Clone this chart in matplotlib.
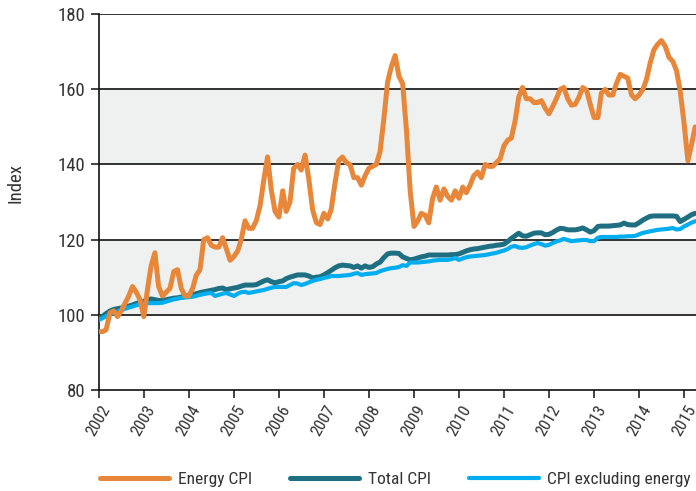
import matplotlib
matplotlib.use("Agg")
import matplotlib.pyplot as plt
import matplotlib.dates as mdates
import pandas as pd

# Monthly index levels, Jan 2002 - Apr 2015
start_month = "2002-01-01"

energy_cpi = [
    95.5, 95.5, 96.0, 100.5, 101.0, 99.5, 101.0, 103.0, 105.0, 107.5, 106.0, 104.0,
    99.5, 107.0, 113.0, 116.5, 107.5, 105.0, 106.0, 107.0, 111.5, 112.0, 107.0, 105.0,
    105.0, 107.0, 110.5, 112.0, 120.0, 120.5, 118.5, 118.0, 118.0, 120.5, 117.5, 114.5,
    115.5, 117.0, 120.0, 125.0, 123.0, 123.0, 125.0, 129.0, 136.0, 142.0, 133.0, 127.5,
    126.0, 133.0, 127.5, 130.0, 139.0, 140.0, 138.5, 142.5, 136.0, 128.0, 124.5, 124.0,
    127.0, 125.5, 128.0, 135.0, 141.0, 142.0, 140.5, 140.0, 136.5, 136.5, 134.5, 137.0,
    139.0, 139.5, 140.0, 143.5, 152.0, 162.0, 166.0, 169.0, 163.5, 161.5, 149.0, 133.0,
    123.5, 125.0, 127.0, 126.5, 124.5, 131.0, 134.0, 130.5, 133.5, 131.5, 130.5, 133.0,
    131.0, 134.0, 132.5, 134.5, 137.0, 138.0, 136.5, 140.0, 139.5, 139.5, 140.5, 141.5,
    145.0, 146.5, 147.0, 151.5, 158.0, 160.5, 157.5, 157.5, 156.5, 156.5, 157.0, 155.0,
    153.5, 155.5, 157.5, 160.0, 160.5, 157.5, 155.8, 156.0, 158.0, 160.5, 159.8, 156.0,
    152.5, 152.5, 159.0, 160.0, 158.5, 158.5, 161.5, 164.0, 163.5, 163.0, 158.5, 157.5,
    158.5, 160.0, 162.5, 167.0, 170.5, 172.0, 173.0, 171.5, 168.5, 167.5, 165.0, 159.5,
    151.0, 141.0, 145.0, 150.0,
]

total_cpi = [
    99.0, 99.6, 100.3, 101.0, 101.4, 101.6, 101.8, 102.0, 102.3, 102.6, 103.0, 103.3,
    103.6, 104.0, 104.2, 104.0, 103.8, 103.8, 104.0, 104.2, 104.4, 104.5, 104.7, 104.9,
    105.2, 105.4, 105.6, 105.9, 106.1, 106.3, 106.5, 106.7, 107.0, 107.1, 106.7, 106.9,
    107.1, 107.3, 107.6, 107.9, 107.9, 107.9, 108.0, 108.5, 109.0, 109.3, 108.8, 108.5,
    108.8, 109.0, 109.6, 110.0, 110.3, 110.6, 110.6, 110.6, 110.3, 109.8, 110.0, 110.1,
    110.6, 111.2, 111.8, 112.5, 113.0, 113.2, 113.1, 113.0, 112.6, 113.0, 112.4, 113.0,
    112.6, 112.8, 113.5, 114.0, 115.2, 116.2, 116.4, 116.4, 116.3, 115.4, 115.0, 114.6,
    114.8, 115.1, 115.4, 115.6, 115.9, 115.9, 115.9, 115.9, 115.9, 115.9, 116.0, 116.0,
    116.2, 116.6, 117.0, 117.3, 117.5, 117.6, 117.8, 118.0, 118.2, 118.3, 118.5, 118.6,
    118.8, 119.5, 120.3, 121.0, 121.7, 121.0, 120.9, 121.3, 121.7, 121.8, 121.8, 121.3,
    121.4, 121.9, 122.5, 123.0, 122.9, 122.6, 122.6, 122.6, 122.8, 123.1, 122.6, 122.0,
    122.4, 123.5, 123.6, 123.6, 123.6, 123.7, 123.8, 123.9, 124.4, 124.0, 123.9, 123.9,
    124.5, 125.2, 125.7, 126.2, 126.3, 126.3, 126.3, 126.3, 126.3, 126.3, 126.2, 124.8,
    125.4, 126.0, 126.6, 127.0,
]

cpi_ex_energy = [
    98.6, 99.1, 99.6, 100.1, 100.5, 100.9, 101.2, 101.6, 101.9, 102.2, 102.5, 102.8,
    103.0, 103.1, 103.1, 103.1, 103.1, 103.2, 103.5, 103.8, 104.1, 104.3, 104.5, 104.6,
    104.7, 104.8, 105.0, 105.3, 105.5, 105.7, 105.8, 105.0, 105.3, 105.6, 105.8, 105.4,
    105.0, 105.6, 106.0, 106.1, 105.8, 106.0, 106.2, 106.4, 106.6, 106.9, 107.2, 107.4,
    107.4, 107.4, 107.4, 107.9, 108.4, 108.3, 107.9, 108.2, 108.6, 109.0, 109.3, 109.5,
    109.8, 110.0, 110.3, 110.3, 110.3, 110.4, 110.5, 110.6, 110.9, 111.1, 110.6, 110.8,
    110.9, 111.0, 111.1, 111.6, 111.9, 112.2, 112.4, 112.5, 112.7, 113.2, 113.0, 113.9,
    113.9, 113.9, 114.0, 114.1, 114.2, 114.4, 114.5, 114.6, 114.6, 114.6, 114.8, 115.1,
    114.6, 115.0, 115.3, 115.5, 115.6, 115.7, 115.8, 115.9, 116.1, 116.3, 116.5, 116.8,
    117.1, 117.5, 118.1, 118.3, 117.9, 117.8, 118.0, 118.4, 118.8, 119.1, 118.8, 118.4,
    118.6, 119.1, 119.5, 119.8, 120.2, 119.9, 119.6, 119.7, 119.8, 119.9, 119.9, 119.6,
    119.6, 120.5, 120.7, 120.7, 120.7, 120.7, 120.7, 120.8, 120.8, 120.9, 120.9, 121.0,
    121.4, 121.8, 122.0, 122.2, 122.4, 122.6, 122.7, 122.8, 122.9, 123.1, 122.7, 122.8,
    123.5, 124.0, 124.5, 124.9,
]

series_labels = ["Energy CPI", "Total CPI", "CPI excluding energy"]
y_ticks = [80, 100, 120, 140, 160, 180]
shaded_bands = [(100, 120), (140, 160)]

ORANGE = "#e8873a"
TEAL = "#1f6f82"
SKY = "#00aeef"
TEXT = "#333333"

# narrow sans first; whichever is installed gets used
plt.rcParams["font.family"] = ["Roboto Condensed", "Archivo Narrow", "PT Sans Narrow",
                               "Liberation Sans Narrow", "Liberation Sans", "DejaVu Sans"]

months = pd.date_range(start_month, periods=len(energy_cpi), freq="MS")

fig = plt.figure(figsize=(6.96, 4.91), dpi=100)
ax = fig.add_axes([0.142, 0.206, 0.858, 0.765])

for lo, hi in shaded_bands:
    ax.axhspan(lo, hi, color="#eef1f0", zorder=0, lw=0)
for y in y_ticks[1:]:
    ax.axhline(y, color="#111111", lw=1.2, zorder=1)

l_total, = ax.plot(months, total_cpi, color=TEAL, lw=3.6, zorder=3, solid_capstyle="round")
l_ex, = ax.plot(months, cpi_ex_energy, color=SKY, lw=3.0, zorder=4, solid_capstyle="round")
l_energy, = ax.plot(months, energy_cpi, color=ORANGE, lw=3.6, zorder=5, solid_capstyle="round")

ax.set_ylim(80, 180)
ax.set_yticks(y_ticks)
ax.set_xlim(pd.Timestamp("2002-01-01"), pd.Timestamp("2015-04-08"))
ax.xaxis.set_major_locator(mdates.YearLocator())
ax.xaxis.set_major_formatter(mdates.DateFormatter("%Y"))

for side in ["top", "right"]:
    ax.spines[side].set_visible(False)
for side in ["left", "bottom"]:
    ax.spines[side].set_color("#111111")
    ax.spines[side].set_linewidth(1.2)

ax.tick_params(axis="both", direction="out", length=6, width=1.1, color="#111111",
               labelsize=13.5, labelcolor=TEXT)
ax.tick_params(axis="x", labelsize=12)
plt.setp(ax.get_xticklabels(), rotation=60)
ax.set_ylabel("Index", fontsize=13.5, color=TEXT)
ax.yaxis.set_label_coords(-0.125, 0.55)

fig.legend([l_energy, l_total, l_ex], series_labels, loc="center left",
           bbox_to_anchor=(0.143, 0.024), ncol=3, frameon=False, fontsize=12.5,
           borderaxespad=0, borderpad=0, handlelength=4.0, handletextpad=0.5,
           columnspacing=2.2, labelcolor=TEXT)

fig.savefig("out.png", dpi=100)
